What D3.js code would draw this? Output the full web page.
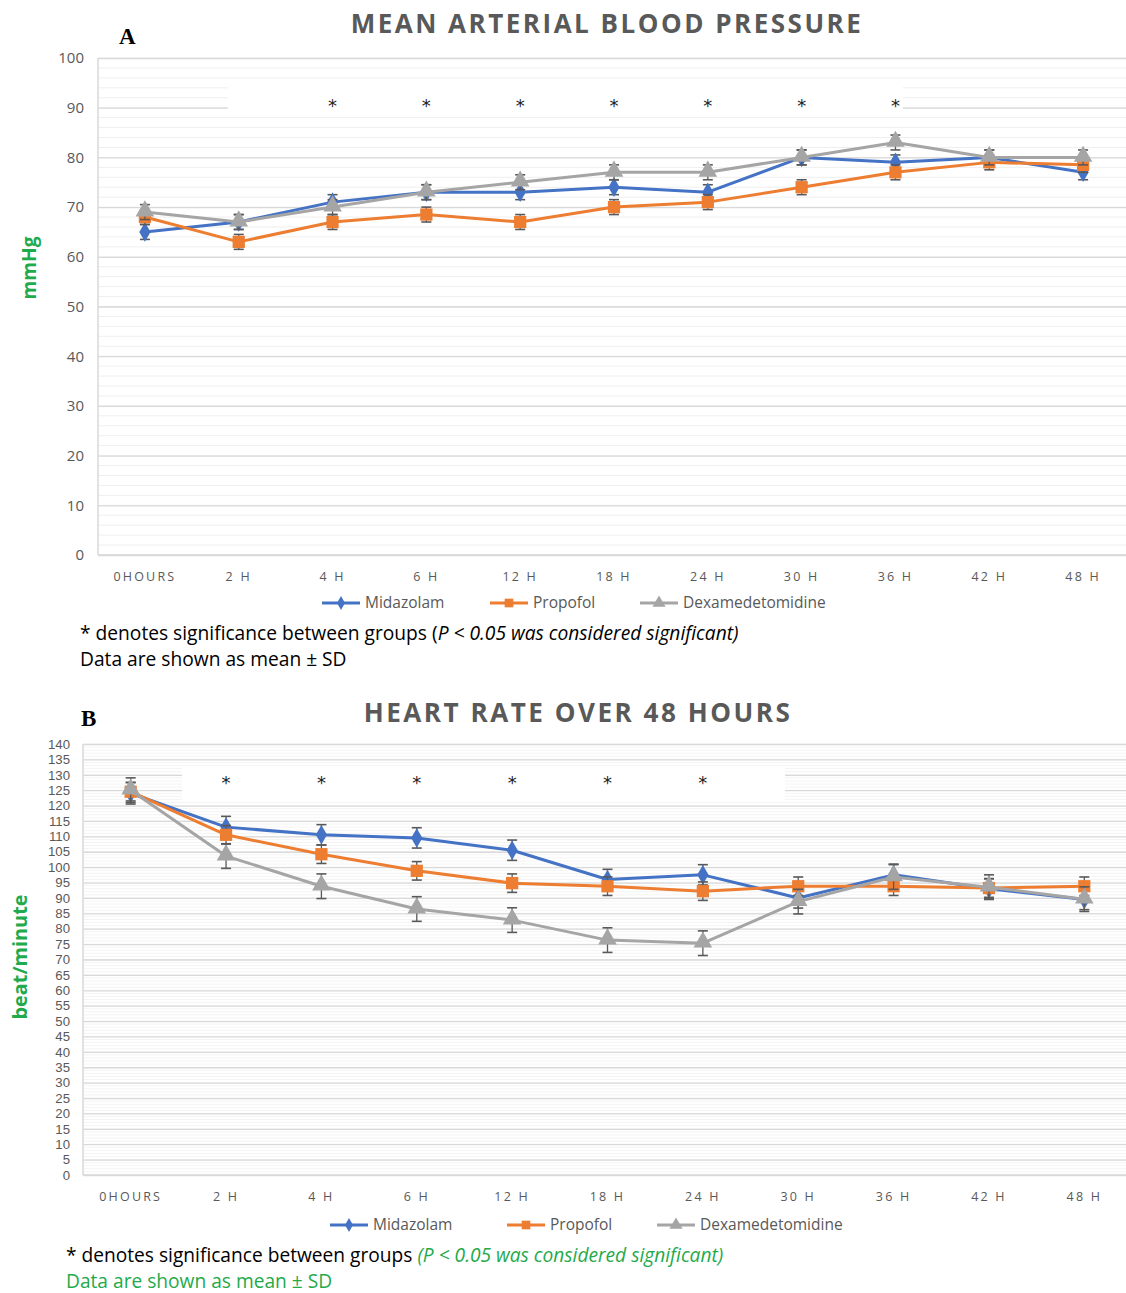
<!DOCTYPE html>
<html><head><meta charset="utf-8">
<script src="https://cdn.jsdelivr.net/npm/d3@7"></script>
<style>body{margin:0;background:#fff}svg{display:block}</style>
</head><body>
<svg id="c" width="1126" height="1293"></svg>
<script>
// ---------- DATA ----------
const timepoints = ["0HOURS","2 H","4 H","6 H","12 H","18 H","24 H","30 H","36 H","42 H","48 H"];
const seriesNames = ["Midazolam","Propofol","Dexamedetomidine"];

// Mean arterial blood pressure (mmHg)
const mapMidazolam   = [65, 67, 71, 73, 73, 74, 73, 80, 79, 80, 77];
const mapPropofol    = [68, 63, 67, 68.5, 67, 70, 71, 74, 77, 79, 78.5];
const mapDex         = [69, 67, 70, 73, 75, 77, 77, 80, 83, 80, 80];
const mapMidazolamSD = [1.5, 1.5, 1.5, 1.5, 1.5, 1.5, 1.5, 1.5, 1.5, 1.5, 1.5];
const mapPropofolSD  = [1.5, 1.5, 1.5, 1.5, 1.5, 1.5, 1.5, 1.5, 1.5, 1.5, 1.5];
const mapDexSD       = [1.5, 1.5, 1.5, 1.5, 1.5, 1.5, 1.5, 1.5, 1.5, 1.5, 1.5];
const mapTicks       = [0, 10, 20, 30, 40, 50, 60, 70, 80, 90, 100];
const mapSigIndex    = [2, 3, 4, 5, 6, 7, 8];

// Heart rate (beat/minute)
const hrMidazolam   = [124, 113, 110.5, 109.5, 105.5, 96, 97.5, 90, 97.5, 93, 89.5];
const hrPropofol    = [124.5, 110.5, 104.2, 98.8, 94.8, 93.8, 92.2, 93.8, 93.8, 93.2, 93.8];
const hrDex         = [125, 103.6, 93.8, 86.4, 82.8, 76.3, 75.3, 88.8, 96.8, 93.5, 89.6];
const hrMidazolamSD = [3.5, 3.5, 3.3, 3.3, 3.3, 3.3, 3.3, 3.3, 3.5, 3.3, 3.3];
const hrPropofolSD  = [3, 3, 3, 3, 3, 3, 3, 3, 3, 3, 3];
const hrDexSD       = [4, 4, 4, 4, 4, 4, 4, 4, 4, 4, 4];
const hrTicks       = [0,5,10,15,20,25,30,35,40,45,50,55,60,65,70,75,80,85,90,95,100,105,110,115,120,125,130,135,140];
const hrSigIndex    = [1, 2, 3, 4, 5, 6];

// ---------- STYLE ----------
const colors = ["#4472C4", "#ED7D31", "#A5A5A5"];
const shapes = [d3.symbolDiamond, d3.symbolSquare, d3.symbolTriangle];
const markerSize = [110, 150, 150];
const textGray = "#595959";
const green = "#1faa4b";
const font = "'Open Sans', 'Noto Sans', sans-serif";

const svg = d3.select("#c");

function fitWidth(sel, target) {
  const node = sel.node();
  const w = node.getComputedTextLength();
  const fs = parseFloat(sel.attr("font-size"));
  if (w > 0) sel.attr("font-size", fs * target / w);
}

function drawChart(cfg) {
  const g = svg.append("g");
  const x = d3.scaleBand().domain(timepoints).range([cfg.x0, cfg.x1]);
  const cx = d => x(d) + x.bandwidth() / 2;
  const y = d3.scaleLinear().domain([0, cfg.max]).range([cfg.yBottom, cfg.yTop]);

  // minor grid
  const minor = d3.range(0, cfg.max + 0.001, cfg.minorStep);
  g.append("g").selectAll("line").data(minor).join("line")
    .attr("x1", cfg.x0).attr("x2", 1126)
    .attr("y1", d => y(d)).attr("y2", d => y(d))
    .attr("stroke", cfg.minorColor).attr("stroke-width", 1);

  // major grid + y labels via axis
  const yAxis = d3.axisLeft(y).tickValues(cfg.ticks).tickSize(-(1126 - cfg.x0)).tickFormat(d3.format("d")).tickPadding(cfg.tickPad);
  const ya = g.append("g").attr("transform", `translate(${cfg.x0},0)`).call(yAxis);
  ya.select(".domain").remove();
  ya.selectAll(".tick line").attr("stroke", "#d9d9d9").attr("stroke-width", 1.3);
  ya.selectAll(".tick text").attr("fill", textGray).attr("font-size", cfg.yFont).attr("font-family", cfg.yFontFamily);

  // white mask behind asterisks
  g.append("rect").attr("x", cfg.mask[0]).attr("y", cfg.mask[1]).attr("width", cfg.mask[2]).attr("height", cfg.mask[3]).attr("fill", "#fff");

  // axis lines
  g.append("line").attr("x1", cfg.x0).attr("x2", cfg.x0).attr("y1", cfg.yTop).attr("y2", cfg.yBottom).attr("stroke", "#d9d9d9").attr("stroke-width", 1.5);
  g.append("line").attr("x1", cfg.x0).attr("x2", 1126).attr("y1", cfg.yBottom).attr("y2", cfg.yBottom).attr("stroke", "#d9d9d9").attr("stroke-width", 1.5);

  // x labels via axis
  const xAxis = d3.axisBottom(x).tickSize(0).tickPadding(cfg.xPad);
  const xa = g.append("g").attr("transform", `translate(0,${cfg.yBottom})`).call(xAxis);
  xa.select(".domain").remove();
  xa.selectAll(".tick text").attr("fill", textGray).attr("font-size", 12.5).attr("font-family", font).attr("letter-spacing", 2.2);

  // series
  const line = d3.line().x((d, i) => cx(timepoints[i])).y(d => y(d));
  cfg.series.forEach((s, k) => {
    const sg = g.append("g");
    sg.append("path").datum(s.values).attr("d", line).attr("fill", "none").attr("stroke", colors[k]).attr("stroke-width", 3).attr("stroke-linejoin", "round");
    const eb = sg.append("g").selectAll("g").data(s.values.map((v, i) => ({ v, sd: s.sd[i], t: timepoints[i] }))).join("g");
    eb.append("line").attr("x1", d => cx(d.t)).attr("x2", d => cx(d.t)).attr("y1", d => y(d.v - d.sd)).attr("y2", d => y(d.v + d.sd)).attr("stroke", "#595959").attr("stroke-width", 1.3);
    eb.append("line").attr("x1", d => cx(d.t) - 5).attr("x2", d => cx(d.t) + 5).attr("y1", d => y(d.v + d.sd)).attr("y2", d => y(d.v + d.sd)).attr("stroke", "#595959").attr("stroke-width", 1.6);
    eb.append("line").attr("x1", d => cx(d.t) - 5).attr("x2", d => cx(d.t) + 5).attr("y1", d => y(d.v - d.sd)).attr("y2", d => y(d.v - d.sd)).attr("stroke", "#595959").attr("stroke-width", 1.6);
    sg.append("g").selectAll("path").data(s.values).join("path")
      .attr("d", d3.symbol().type(shapes[k]).size(markerSize[k]))
      .attr("transform", (d, i) => `translate(${cx(timepoints[i])},${y(d) + (k === 2 ? -1 : 0)})`)
      .attr("fill", colors[k]);
  });

  // significance asterisks
  g.append("g").selectAll("text").data(cfg.sig).join("text")
    .attr("x", i => cx(timepoints[i])).attr("y", cfg.sigY)
    .attr("text-anchor", "middle").attr("font-size", 18).attr("font-family", "'DejaVu Sans', sans-serif").attr("fill", "#222")
    .text("*");

  // title
  const t = g.append("text").attr("x", cfg.titleX).attr("y", cfg.titleY).attr("text-anchor", "middle")
    .attr("font-size", 26).attr("font-weight", "bold").attr("font-family", font).attr("fill", textGray).attr("letter-spacing", 2.5)
    .text(cfg.title);
  fitWidth(t, cfg.titleW);

  // panel letter
  g.append("text").attr("x", cfg.letter[0]).attr("y", cfg.letter[1]).attr("font-size", 23).attr("font-weight", "bold")
    .attr("font-family", "'Liberation Serif', 'DejaVu Serif', serif").attr("fill", "#000").text(cfg.letter[2]);

  // y title
  const yt = g.append("text").attr("transform", `translate(${cfg.yTitle[0]},${cfg.yTitle[1]}) rotate(-90)`).attr("text-anchor", "middle")
    .attr("font-size", 19).attr("font-weight", "bold").attr("font-family", font).attr("fill", green).text(cfg.yTitle[2]);
  fitWidth(yt, cfg.yTitle[3]);

  // legend
  const lg = g.append("g");
  seriesNames.forEach((n, k) => {
    const lx = cfg.legendX[k], ly = cfg.legendY;
    lg.append("line").attr("x1", lx).attr("x2", lx + 38).attr("y1", ly).attr("y2", ly).attr("stroke", colors[k]).attr("stroke-width", 3);
    lg.append("path").attr("d", d3.symbol().type(shapes[k]).size(markerSize[k] * 0.5)).attr("transform", `translate(${lx + 19},${ly})`).attr("fill", colors[k]);
    lg.append("text").attr("x", lx + 43).attr("y", ly + 5).attr("font-size", 15.5).attr("font-family", font).attr("fill", textGray).text(n);
  });

  // notes
  const n1 = g.append("text").attr("x", cfg.noteX).attr("y", cfg.noteY[0]).attr("font-size", 17).attr("font-family", font).attr("fill", "#000");
  n1.append("tspan").text("* denotes significance between groups ");
  n1.append("tspan").attr("fill", cfg.noteColor).attr("font-style", cfg.noteItalicParen ? "normal" : "italic").text("(");
  n1.append("tspan").attr("fill", cfg.noteColor).attr("font-style", "italic").text("P < 0.05 was considered significant)");
  fitWidth(n1, cfg.noteW);
  g.append("text").attr("x", cfg.noteX).attr("y", cfg.noteY[1]).attr("font-size", n1.attr("font-size")).attr("font-family", font).attr("fill", cfg.noteColor).text("Data are shown as mean \u00B1 SD");
}

drawChart({
  x0: 98, x1: 1130, yTop: 58, yBottom: 555, max: 100, minorStep: 2, minorColor: "#efefef",
  ticks: mapTicks, yFont: 15, yFontFamily: font, tickPad: 14, xPad: 17,
  mask: [228, 83, 675, 30],
  series: [
    { values: mapMidazolam, sd: mapMidazolamSD },
    { values: mapPropofol, sd: mapPropofolSD },
    { values: mapDex, sd: mapDexSD }
  ],
  sig: mapSigIndex, sigY: 112,
  title: "MEAN ARTERIAL BLOOD PRESSURE", titleX: 607, titleY: 33, titleW: 513,
  letter: [119, 44, "A"],
  yTitle: [36, 268, "mmHg", 63],
  legendX: [322, 490, 640], legendY: 603,
  noteX: 80, noteY: [640, 666], noteW: 659, noteColor: "#000", noteItalicParen: true
});

drawChart({
  x0: 83, x1: 1132, yTop: 744, yBottom: 1175, max: 140, minorStep: 1, minorColor: "#f4f4f4",
  ticks: hrTicks, yFont: 13.2, yFontFamily: "'Liberation Sans', Arial, sans-serif", tickPad: 13, xPad: 17,
  mask: [182, 766, 603, 34],
  series: [
    { values: hrMidazolam, sd: hrMidazolamSD },
    { values: hrPropofol, sd: hrPropofolSD },
    { values: hrDex, sd: hrDexSD }
  ],
  sig: hrSigIndex, sigY: 789,
  title: "HEART RATE OVER 48 HOURS", titleX: 578, titleY: 722, titleW: 429,
  letter: [81, 726, "B"],
  yTitle: [27, 957, "beat/minute", 125],
  legendX: [330, 507, 657], legendY: 1225,
  noteX: 66, noteY: [1262, 1288], noteW: 658, noteColor: green, noteItalicParen: false
});
</script>
</body></html>
